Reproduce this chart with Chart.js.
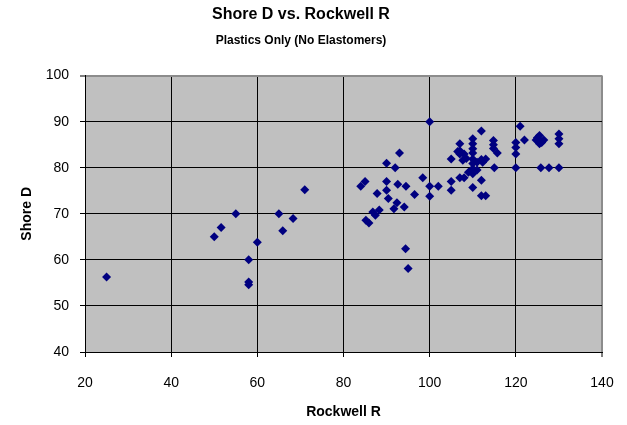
<!DOCTYPE html>
<html>
<head>
<meta charset="utf-8">
<script src="https://cdn.jsdelivr.net/npm/chart.js@4/dist/chart.umd.min.js"></script>
<style>
  html, body { margin: 0; padding: 0; background: #fff; }
  #wrap { width: 627px; height: 425px; }
</style>
</head>
<body>
<div id="wrap"><canvas id="hardnessChart" width="627" height="425"></canvas></div>
<script>
// Rockwell R vs Shore D readings (plastics only)
const rockwellR = [
    25, 50, 51.6, 55, 60, 58, 58, 58, 65, 68.3, 65.9, 71,
    85, 84, 85.2, 85.9, 86.8, 87.4, 88.3, 87.8, 90, 93, 92, 90,
    92.6, 94.5, 90, 90.4, 92.4, 91.7, 94.1, 94.4, 95, 96.5, 98.4, 100,
    100, 102, 100, 105, 105, 105, 107, 108, 110, 112, 113, 112,
    107, 110, 110, 110, 110, 107, 108, 112, 107.7, 110, 110, 110,
    110, 111, 112, 113, 115, 114.8, 114.8, 115.7, 114.8, 120, 120, 120,
    120, 121, 122, 124.7, 125.5, 126.5, 125.5, 125, 126, 130, 130, 130,
    125.8, 127.7, 130, 109, 111, 108.5, 106.5, 112.3, 107
];
const shoreD = [
    56.3, 65, 67, 70, 63.8, 60, 55.2, 54.6, 70, 69, 66.3, 75.2,
    77, 76, 68.6, 68, 70.4, 69.7, 70.8, 74.4, 81, 83.2, 80, 77,
    76.4, 76, 75.1, 73.3, 72.4, 71.1, 71.5, 62.4, 58.1, 74.2, 77.8, 90,
    76, 76, 73.8, 81.9, 77, 75.1, 77.8, 77.8, 75.7, 73.9, 73.9, 77.3,
    85.2, 86.3, 85.2, 84.1, 83.2, 83, 83, 88, 81.6, 81.9, 80.9, 79.8,
    78.7, 81.2, 81.8, 81.9, 80, 85.9, 85, 83.2, 84.2, 85.5, 84.4, 83,
    80, 89, 86, 86, 87, 86, 85.2, 86.5, 85.5, 87.3, 86.3, 85.2,
    80, 80, 80, 79, 79.5, 82, 83.5, 81.2, 83.7
];
const xTicks = [20, 40, 60, 80, 100, 120, 140];
const yTicks = [40, 50, 60, 70, 80, 90, 100];

const points = rockwellR.map((r, i) => ({ x: r, y: shoreD[i] }));

// grey plot area like the old spreadsheet charts
const plotBackground = {
    id: "plotBackground",
    beforeDraw(chart) {
        const a = chart.chartArea;
        const c = chart.ctx;
        c.save();
        c.fillStyle = "#c0c0c0";
        c.fillRect(a.left, a.top, a.right - a.left, a.bottom - a.top);
        c.restore();
    }
};

const ctx = document.getElementById("hardnessChart");
new Chart(ctx, {
    type: "scatter",
    data: {
        datasets: [{
            label: "Shore D",
            data: points,
            pointStyle: "rectRot",
            pointRadius: 4.5,
            pointHoverRadius: 4.5,
            borderWidth: 0,
            backgroundColor: "#000080",
            borderColor: "#000080"
        }]
    },
    options: {
        responsive: false,
        animation: false,
        layout: { padding: { left: 0, right: 25, top: 0, bottom: 0 } },
        plugins: {
            legend: { display: false },
            tooltip: { enabled: false },
            title: {
                display: true,
                text: "Shore D vs. Rockwell R",
                color: "#000",
                font: { family: "Liberation Sans, Arial", size: 16, weight: "bold" },
                padding: { top: 5, bottom: 9 }
            },
            subtitle: {
                display: true,
                text: "Plastics Only (No Elastomers)",
                color: "#000",
                font: { family: "Liberation Sans, Arial", size: 12, weight: "bold" },
                padding: { top: 0, bottom: 28 }
            }
        },
        scales: {
            x: {
                type: "linear",
                min: 20,
                max: 140,
                afterBuildTicks(scale) {
                    scale.ticks = xTicks.map(v => ({ value: v }));
                },
                afterFit(scale) {
                    scale.height = 73;
                    scale.paddingLeft = 0;
                    scale.paddingRight = 0;
                },
                grid: {
                    color: c => (c.tick && c.tick.value === 140 ? "#8c8c8c" : "#000"),
                    lineWidth: c => (c.tick && c.tick.value === 140 ? 2 : 1),
                    drawTicks: true,
                    tickLength: 5,
                    tickColor: "#000",
                    tickWidth: 1
                },
                border: { color: "#000", width: 1 },
                ticks: {
                    color: "#000",
                    font: { family: "Liberation Sans, Arial", size: 14 },
                    padding: 18,
                    maxRotation: 0
                },
                title: {
                    display: true,
                    text: "Rockwell R",
                    color: "#000",
                    font: { family: "Liberation Sans, Arial", size: 14, weight: "bold" },
                    padding: { top: 8 }
                }
            },
            y: {
                type: "linear",
                min: 40,
                max: 100,
                afterBuildTicks(scale) {
                    scale.ticks = yTicks.map(v => ({ value: v }));
                },
                afterFit(scale) { scale.width = 85; },
                grid: {
                    color: c => (c.tick && c.tick.value === 100 ? "#8c8c8c" : "#000"),
                    lineWidth: c => (c.tick && c.tick.value === 100 ? 2 : 1),
                    drawTicks: true,
                    tickLength: 5,
                    tickColor: "#000",
                    tickWidth: 1
                },
                border: { color: "#000", width: 1 },
                ticks: {
                    color: "#000",
                    font: { family: "Liberation Sans, Arial", size: 14 },
                    padding: 11
                },
                title: {
                    display: true,
                    text: "Shore D",
                    color: "#000",
                    font: { family: "Liberation Sans, Arial", size: 14, weight: "bold" },
                    padding: { top: 19, bottom: 4 }
                }
            }
        }
    },
    plugins: [plotBackground]
});
</script>
</body>
</html>
